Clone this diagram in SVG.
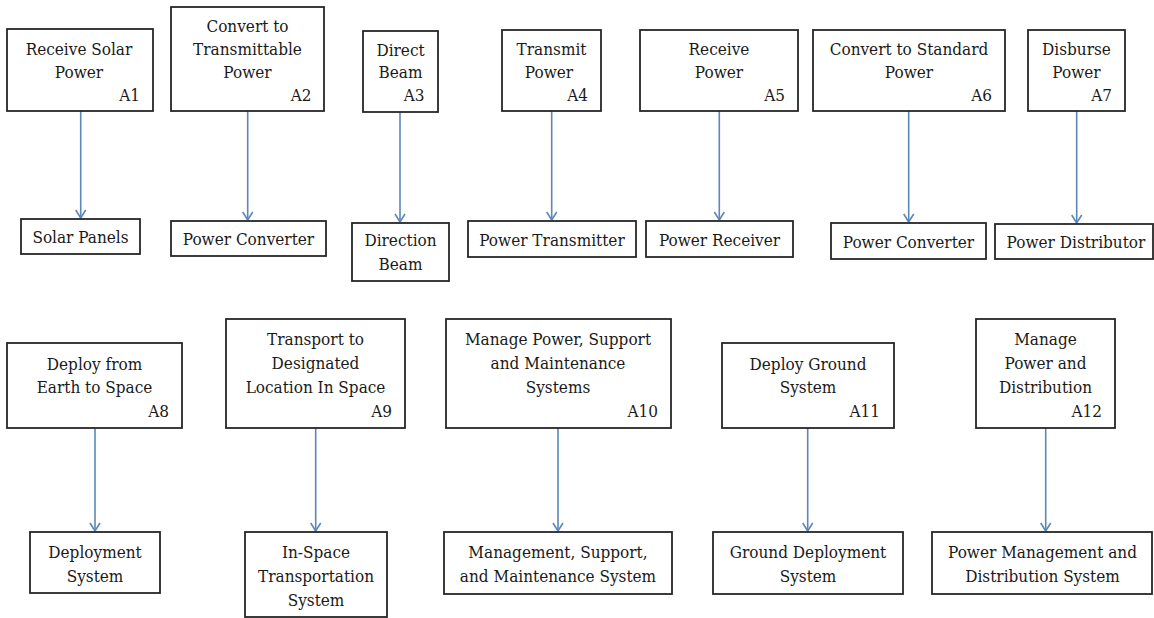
<svg xmlns="http://www.w3.org/2000/svg" width="1154" height="618" viewBox="0 0 1154 618">
<style>
rect{fill:#fff;stroke:#262626;stroke-width:1.8}
text{font-family:"DejaVu Serif Condensed","DejaVu Serif","Noto Serif",serif;font-stretch:condensed;font-size:17px;fill:#1a1a1a}
.c{text-anchor:middle}
.r{text-anchor:end}
.e{stroke:#5b87b9;stroke-width:1.6;fill:none}
</style>
<defs>
<marker id="ah" markerUnits="userSpaceOnUse" markerWidth="14" markerHeight="14" refX="9" refY="6" orient="auto">
<path d="M1,1 L9,6 L1,11" fill="none" stroke="#5b87b9" stroke-width="1.6"/>
</marker>
</defs>
<rect width="1154" height="618" style="fill:#fff;stroke:none"/>
<g id="connectors">
<line class="e" x1="80.7" y1="111" x2="80.7" y2="218" marker-end="url(#ah)"/>
<line class="e" x1="247.7" y1="111" x2="247.7" y2="220" marker-end="url(#ah)"/>
<line class="e" x1="400" y1="112" x2="400" y2="222" marker-end="url(#ah)"/>
<line class="e" x1="551.7" y1="111" x2="551.7" y2="220" marker-end="url(#ah)"/>
<line class="e" x1="719.3" y1="111" x2="719.3" y2="220" marker-end="url(#ah)"/>
<line class="e" x1="908.7" y1="111" x2="908.7" y2="222" marker-end="url(#ah)"/>
<line class="e" x1="1076.7" y1="111" x2="1076.7" y2="223" marker-end="url(#ah)"/>
<line class="e" x1="95" y1="428" x2="95" y2="531" marker-end="url(#ah)"/>
<line class="e" x1="315.7" y1="428" x2="315.7" y2="531" marker-end="url(#ah)"/>
<line class="e" x1="558" y1="428" x2="558" y2="531" marker-end="url(#ah)"/>
<line class="e" x1="807.7" y1="428" x2="807.7" y2="531" marker-end="url(#ah)"/>
<line class="e" x1="1045.7" y1="428" x2="1045.7" y2="531" marker-end="url(#ah)"/>
</g>
<g id="A1"><rect x="7" y="29" width="146" height="82"/><text class="c" x="79" y="55">Receive Solar</text><text class="c" x="79" y="77.5">Power</text><text class="r" x="140" y="101">A1</text></g>
<g id="A2"><rect x="171" y="7" width="153" height="104"/><text class="c" x="247.5" y="32">Convert to</text><text class="c" x="247.5" y="54.5">Transmittable</text><text class="c" x="247.5" y="77.5">Power</text><text class="r" x="311.5" y="101">A2</text></g>
<g id="A3"><rect x="363" y="31" width="75" height="81"/><text class="c" x="400.5" y="55.5">Direct</text><text class="c" x="400.5" y="78">Beam</text><text class="r" x="424.5" y="101">A3</text></g>
<g id="A4"><rect x="502" y="30" width="99" height="81"/><text class="c" x="551.5" y="55">Transmit</text><text class="c" x="549" y="77.5">Power</text><text class="r" x="588" y="101">A4</text></g>
<g id="A5"><rect x="640" y="30" width="158" height="81"/><text class="c" x="719" y="55">Receive</text><text class="c" x="719" y="77.5">Power</text><text class="r" x="785" y="101">A5</text></g>
<g id="A6"><rect x="813" y="30" width="192" height="81"/><text class="c" x="909" y="55">Convert to Standard</text><text class="c" x="909" y="77.5">Power</text><text class="r" x="992" y="101">A6</text></g>
<g id="A7"><rect x="1028" y="30" width="97" height="81"/><text class="c" x="1076.5" y="55">Disburse</text><text class="c" x="1076.5" y="77.5">Power</text><text class="r" x="1112" y="101">A7</text></g>
<g id="solar-panels"><rect x="21" y="219" width="119" height="35"/><text class="c" x="80.5" y="243">Solar Panels</text></g>
<g id="power-converter-1"><rect x="171" y="221" width="155" height="35"/><text class="c" x="248.5" y="245">Power Converter</text></g>
<g id="direction-beam"><rect x="352" y="223" width="97" height="58"/><text class="c" x="400.5" y="246">Direction</text><text class="c" x="400.5" y="270">Beam</text></g>
<g id="power-transmitter"><rect x="468" y="221" width="168" height="36"/><text class="c" x="552" y="245.5">Power Transmitter</text></g>
<g id="power-receiver"><rect x="646" y="221" width="147" height="36"/><text class="c" x="719.5" y="245.5">Power Receiver</text></g>
<g id="power-converter-2"><rect x="831" y="223" width="155" height="36"/><text class="c" x="908.5" y="247.5">Power Converter</text></g>
<g id="power-distributor"><rect x="995" y="224" width="158" height="35"/><text class="c" x="1076" y="248">Power Distributor</text></g>
<g id="A8"><rect x="7" y="343" width="175" height="85"/><text class="c" x="94.5" y="370">Deploy from</text><text class="c" x="94.5" y="393">Earth to Space</text><text class="r" x="169" y="416.5">A8</text></g>
<g id="A9"><rect x="226" y="319" width="179" height="109"/><text class="c" x="315.5" y="345">Transport to</text><text class="c" x="315.5" y="369">Designated</text><text class="c" x="315.5" y="393">Location In Space</text><text class="r" x="392" y="416.5">A9</text></g>
<g id="A10"><rect x="446" y="319" width="225" height="109"/><text class="c" x="558" y="345">Manage Power, Support</text><text class="c" x="558" y="369">and Maintenance</text><text class="c" x="558" y="392.5">Systems</text><text class="r" x="658" y="416.5">A10</text></g>
<g id="A11"><rect x="722" y="343" width="172" height="85"/><text class="c" x="808" y="370">Deploy Ground</text><text class="c" x="808" y="393">System</text><text class="r" x="880" y="416.5">A11</text></g>
<g id="A12"><rect x="976" y="319" width="139" height="109"/><text class="c" x="1045.5" y="345">Manage</text><text class="c" x="1045.5" y="369">Power and</text><text class="c" x="1045.5" y="393">Distribution</text><text class="r" x="1102" y="416.5">A12</text></g>
<g id="deployment-system"><rect x="30" y="532" width="130" height="61"/><text class="c" x="95" y="558">Deployment</text><text class="c" x="95" y="581.5">System</text></g>
<g id="in-space-transportation"><rect x="245" y="532" width="142" height="85"/><text class="c" x="316" y="558">In-Space</text><text class="c" x="316" y="581.5">Transportation</text><text class="c" x="316" y="606">System</text></g>
<g id="management-support"><rect x="444" y="532" width="228" height="62"/><text class="c" x="558" y="558">Management, Support,</text><text class="c" x="558" y="581.5">and Maintenance System</text></g>
<g id="ground-deployment"><rect x="713" y="532" width="190" height="62"/><text class="c" x="808" y="558">Ground Deployment</text><text class="c" x="808" y="581.5">System</text></g>
<g id="power-management"><rect x="932" y="532" width="220" height="62"/><text class="c" x="1042.5" y="558">Power Management and</text><text class="c" x="1042.5" y="581.5">Distribution System</text></g>
</svg>
